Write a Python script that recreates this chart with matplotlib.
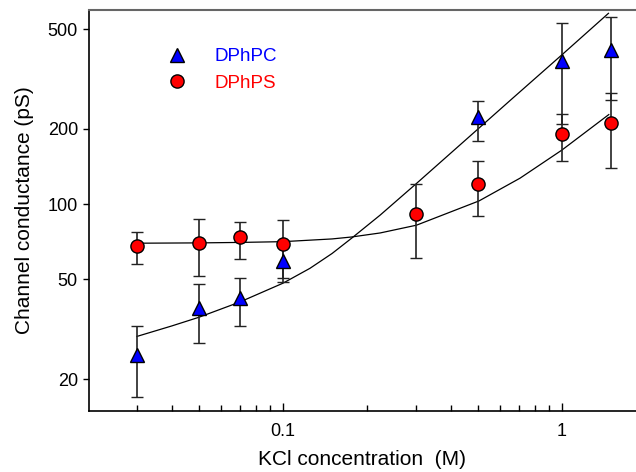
import matplotlib
matplotlib.use("Agg")
import matplotlib.pyplot as plt
from matplotlib.lines import Line2D
from matplotlib.ticker import FixedLocator, FixedFormatter, NullFormatter

plt.rcParams['font.family'] = ['Liberation Sans', 'DejaVu Sans']

# measured points
pc_x = [0.03, 0.05, 0.07, 0.1, 0.5, 1.0, 1.5]
pc_y = [25, 38.4, 42, 59, 223, 373, 413]
pc_lo = [16.9, 27.8, 32.5, 48.8, 179, 209, 261]
pc_hi = [32.5, 47.9, 50.6, 69.2, 258, 530, 560]

ps_x = [0.03, 0.05, 0.07, 0.1, 0.3, 0.5, 1.0, 1.5]
ps_y = [67.9, 69.8, 73.8, 69.6, 91.2, 120, 190.5, 211]
ps_lo = [57.5, 51.5, 60.3, 50.6, 60.8, 89.5, 148.6, 139]
ps_hi = [77.3, 87, 84.7, 86.3, 120, 148.6, 229, 278]

# fitted curves
pc_fit_x = [0.03, 0.04, 0.05, 0.07, 0.1, 0.125, 0.15, 0.176, 0.223, 0.301, 0.455, 0.66, 0.998, 1.466]
pc_fit_y = [29.6, 32.6, 35.3, 40.6, 48.3, 55.4, 63.5, 73.0, 90.4, 121, 182, 263, 395, 579]

ps_fit_x = [0.03, 0.05, 0.07, 0.1, 0.15, 0.176, 0.223, 0.301, 0.504, 0.707, 0.998, 1.47]
ps_fit_y = [69.8, 70.0, 70.3, 70.8, 72.6, 73.9, 76.7, 82.4, 103, 127, 164.4, 228]

y_ticks = [20, 50, 100, 200, 500]
y_ticklabels = ['20', '50', '100', '200', '500']
x_ticks = [0.1, 1]
x_ticklabels = ['0.1', '1']
labels = ['DPhPC', 'DPhPS']


def main():
    fig = plt.figure(figsize=(6.36, 4.72), dpi=100)
    ax = fig.add_axes([89 / 636, 61 / 472, 547 / 636, 401 / 472])

    ax.plot(pc_fit_x, pc_fit_y, color='black', lw=0.9, zorder=2)
    ax.plot(ps_fit_x, ps_fit_y, color='black', lw=0.9, zorder=2)

    pc_err = [[y - l for y, l in zip(pc_y, pc_lo)], [h - y for y, h in zip(pc_y, pc_hi)]]
    ps_err = [[y - l for y, l in zip(ps_y, ps_lo)], [h - y for y, h in zip(ps_y, ps_hi)]]

    ax.errorbar(pc_x, pc_y, yerr=pc_err, fmt='^', color='#222222', ecolor='#222222',
                elinewidth=1.2, capsize=4, capthick=1.2, markersize=10.5,
                markerfacecolor='blue', markeredgecolor='black', markeredgewidth=1, zorder=3)
    ax.errorbar(ps_x, ps_y, yerr=ps_err, fmt='o', color='#222222', ecolor='#222222',
                elinewidth=1.2, capsize=4, capthick=1.2, markersize=9.5,
                markerfacecolor='red', markeredgecolor='black', markeredgewidth=1, zorder=3)

    ax.set_xscale('log')
    ax.set_yscale('log')
    ax.set_xlim(0.0202, 1.84)
    ax.set_ylim(14.9, 597)

    ax.yaxis.set_major_locator(FixedLocator(y_ticks))
    ax.yaxis.set_major_formatter(FixedFormatter(y_ticklabels))
    ax.yaxis.set_minor_locator(FixedLocator([]))
    ax.xaxis.set_major_locator(FixedLocator(x_ticks))
    ax.xaxis.set_major_formatter(FixedFormatter(x_ticklabels))
    ax.xaxis.set_minor_formatter(NullFormatter())

    ax.tick_params(axis='y', which='major', direction='out', length=4, width=1, labelsize=13, pad=4)
    ax.tick_params(axis='x', which='major', direction='in', length=6, width=1, labelsize=13, pad=9)
    ax.tick_params(axis='x', which='minor', direction='in', length=4, width=1)

    ax.spines['right'].set_visible(False)
    ax.spines['top'].set_color('#666666')
    ax.spines['top'].set_linewidth(1.5)
    ax.spines['left'].set_linewidth(1.2)
    ax.spines['bottom'].set_linewidth(1.2)

    ax.set_xlabel('KCl concentration  (M)', fontsize=15, labelpad=7)
    ax.set_ylabel('Channel conductance (pS)', fontsize=15, labelpad=10)

    handles = [
        Line2D([], [], ls='none', marker='^', markersize=10.5, markerfacecolor='blue',
               markeredgecolor='black'),
        Line2D([], [], ls='none', marker='o', markersize=9.5, markerfacecolor='red',
               markeredgecolor='black'),
    ]
    ax.legend(handles, labels, loc='upper left', bbox_to_anchor=(0.143, 0.905),
              frameon=False, fontsize=13.5, labelcolor=['blue', 'red'], handlelength=1.0,
              handletextpad=1.5, labelspacing=0.5, borderpad=0, borderaxespad=0)

    fig.savefig('out.png', dpi=100, facecolor='white')


if __name__ == "__main__":
    main()
